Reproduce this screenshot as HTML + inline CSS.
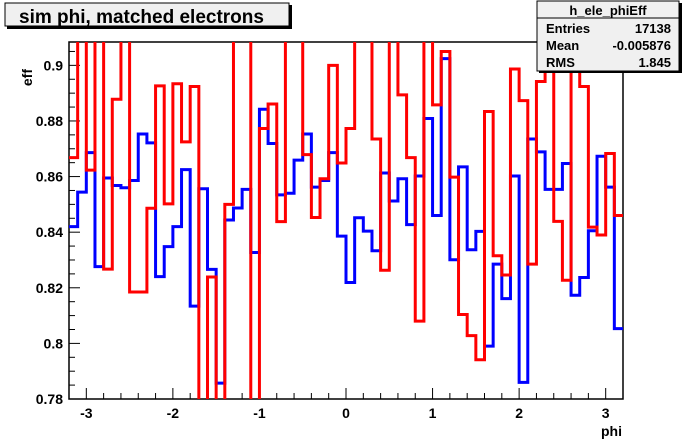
<!DOCTYPE html>
<html><head><meta charset="utf-8"><style>
html,body{margin:0;padding:0;background:#fff}
svg{display:block;font-family:"Liberation Sans",Arial,sans-serif;font-weight:bold}
</style></head><body>
<svg id="c" width="692" height="444" viewBox="0 0 692 444">
<defs><clipPath id="clip"><rect x="69" y="42" width="554" height="357"/></clipPath></defs>
<rect x="69" y="42" width="554" height="357" fill="#fff" stroke="#000" stroke-width="1.5"/>
<g id="axes"></g>
<g id="series" clip-path="url(#clip)"></g>
<text x="622" y="436" font-size="14" text-anchor="end">phi</text>
<text transform="translate(32,69) rotate(-90)" font-size="14" text-anchor="end">eff</text>
<g>
<rect x="7" y="5" width="285" height="24" fill="#000"/>
<rect x="5" y="3" width="284" height="23" fill="#f0f0f0" stroke="#000" stroke-width="1"/>
<text x="19" y="23" font-size="19">sim phi, matched electrons</text>
</g>
<g>
<rect x="539" y="3" width="143" height="70" fill="#000"/>
<rect x="537" y="1" width="142" height="70" fill="#f0f0f0" stroke="#000" stroke-width="1"/>
<line x1="537" y1="18" x2="679" y2="18" stroke="#000"/>
<text x="608" y="15" font-size="13" text-anchor="middle">h_ele_phiEff</text>
<text x="546" y="33" font-size="13">Entries</text>
<text x="671" y="33" font-size="13" text-anchor="end">17138</text>
<text x="546" y="50" font-size="13">Mean</text>
<text x="671" y="50" font-size="13" text-anchor="end">-0.005876</text>
<text x="546" y="67" font-size="13">RMS</text>
<text x="671" y="67" font-size="13" text-anchor="end">1.845</text>
</g>
</svg>
<script>
const blueValues=[0.842,0.8544,0.8686,0.8276,0.8595,0.8568,0.856,0.8586,0.8753,0.8721,0.824,0.8348,0.842,0.8625,0.8134,0.8556,0.8266,0.7857,0.8444,0.8487,0.8554,0.8327,0.8842,0.8719,0.8534,0.854,0.8659,0.8753,0.8562,0.8586,0.8686,0.8386,0.8219,0.8452,0.8404,0.8333,0.8613,0.8512,0.8592,0.8427,0.8602,0.8809,0.846,0.9024,0.8301,0.8635,0.8337,0.8403,0.799,0.8285,0.8161,0.8602,0.786,0.8735,0.8689,0.8554,0.8554,0.8647,0.8173,0.8237,0.8405,0.8673,0.8562,0.8053];
const redValues=[0.8668,0.93,0.8623,0.93,0.8267,0.8878,0.93,0.8185,0.8185,0.8486,0.8926,0.8502,0.8934,0.8725,0.8924,0.77,0.8239,0.77,0.85,0.93,0.93,0.77,0.8773,0.8861,0.8438,0.93,0.93,0.8679,0.8453,0.8592,0.9,0.8649,0.8773,0.93,0.93,0.8735,0.8263,0.93,0.8894,0.8668,0.808,0.93,0.8858,0.905,0.8598,0.8104,0.8028,0.7941,0.8834,0.8315,0.8246,0.8987,0.8873,0.8285,0.8942,0.93,0.8439,0.8227,0.93,0.8924,0.8418,0.839,0.8683,0.846];
const xRange=[-3.2,3.2];
const xTickLabels=[-3,-2,-1,0,1,2,3];
const yTickLabels=[0.78,0.8,0.82,0.84,0.86,0.88,0.9];
const NS="http://www.w3.org/2000/svg";
const X0=69,X1=623,Y0=399,Y1=42;
function xs(v){return X0+(v-xRange[0])/(xRange[1]-xRange[0])*(X1-X0);}
function ys(v){return Y0-(v-0.78)/(0.9084-0.78)*(Y0-Y1);}
const axes=document.getElementById('axes');
function mk(tag,attrs,parent){const e=document.createElementNS(NS,tag);for(const k in attrs)e.setAttribute(k,attrs[k]);parent.appendChild(e);return e;}
// x ticks
for(let v=-3.2;v<=3.2001;v+=0.2){
  const t=Math.round(v*10)/10; const major=Math.abs(t-Math.round(t))<1e-6;
  const l=mk('line',{x1:xs(t),x2:xs(t),y1:Y0,y2:Y0-(major?11:6),stroke:'#000'},axes);
  
  
}
xTickLabels.forEach(v=>{
  const t=mk('text',{x:xs(v),y:418,'font-size':14,'text-anchor':'middle'},axes);
  t.textContent=String(v);
  
  
});
for(let i=0;i<=26;i++){
  const v=0.78+i*0.005; if(v>0.9085)break;
  const major=i%4===0;
  const l=mk('line',{x1:X0,x2:X0+(major?11:6),y1:ys(v),y2:ys(v),stroke:'#000'},axes);
  
  
}
yTickLabels.forEach(v=>{
  const t=mk('text',{x:63,y:ys(v)+5,'font-size':14,'text-anchor':'end'},axes);
  t.textContent=String(v);
  
  
});
function stepPath(vals){
  const n=vals.length,w=(xRange[1]-xRange[0])/n;let d='';
  vals.forEach((v,i)=>{const a=xs(xRange[0]+i*w),b=xs(xRange[0]+(i+1)*w),y=ys(v);
    d+=(i===0?'M':'L')+a+','+y+'L'+b+','+y;});
  return d;
}
const g=document.getElementById('series');
const pb=mk('path',{d:stepPath(blueValues),fill:'none',stroke:'#0000ff','stroke-width':3},g);


const pr=mk('path',{d:stepPath(redValues),fill:'none',stroke:'#ff0000','stroke-width':3},g);


</script>
</body></html>
